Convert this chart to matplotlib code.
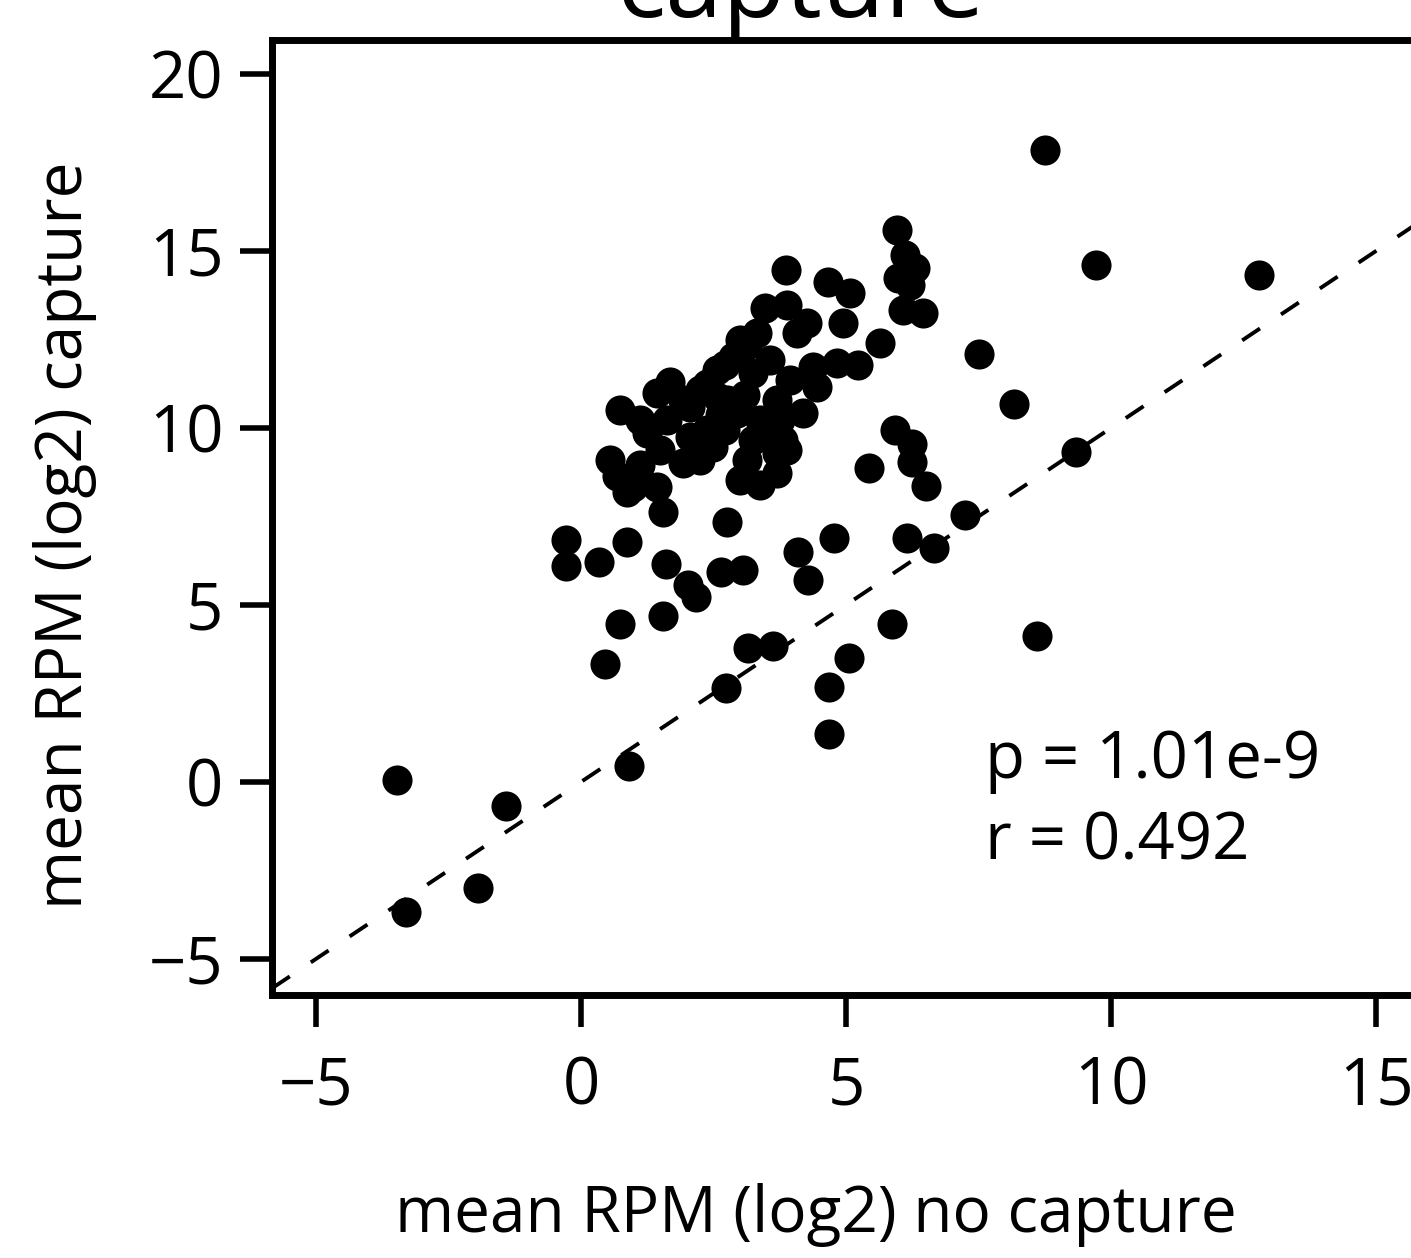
import matplotlib
matplotlib.use('Agg')
import matplotlib.pyplot as plt

plt.rcParams['font.family'] = ['Open Sans', 'DejaVu Sans']

# mean RPM (log2) without capture (x) and with capture (y)
x_no_capture = [
    # scattered points
    -3.47, -3.30, -1.94, -1.42, 0.91, 0.45, 0.74, 1.55, -0.28, -0.28,
    0.34, 0.87, 1.60, 2.02, 2.17, 2.64, 3.06, 2.75, 3.15, 3.62,
    2.74, 4.09, 4.28, 4.77, 4.68, 5.06, 4.68, 5.87, 8.60, 5.43,
    5.92, 6.25, 6.25, 6.51, 6.15, 6.66, 7.25, 9.34, 8.17, 7.51,
    8.75, 9.72, 12.79,
    5.96, 6.11, 6.30, 5.98, 6.21, 6.08, 6.45,
    # dense cluster
    0.74, 1.43, 1.68, 1.25, 1.62, 2.06, 2.25, 2.57, 2.87, 2.38,
    1.92, 0.55, 0.68, 0.98, 0.87, 1.43, 1.55, 3.00, 3.38, 3.70,
    2.49, 3.00, 3.32, 3.13, 2.72, 3.25, 3.70, 2.38, 2.57, 2.94,
    3.81, 3.70, 3.25, 3.13, 3.47, 3.89, 3.87, 4.66, 5.08, 4.26,
    4.94, 4.08, 5.64, 5.23, 4.83, 4.38, 4.45, 4.19, 3.89, 2.06,
    1.92, 2.75, 3.38, 3.57, 3.94, 2.72, 3.09, 1.49, 1.11,
    2.62, 3.47, 2.25, 3.75, 1.11,
]
y_capture = [
    0.06, -3.67, -2.99, -0.68, 0.45, 3.33, 4.46, 4.69, 6.84, 6.10,
    6.21, 6.78, 6.16, 5.56, 5.23, 5.93, 5.99, 7.34, 3.79, 3.84,
    2.66, 6.50, 5.71, 6.89, 2.68, 3.50, 1.36, 4.46, 4.12, 8.87,
    9.94, 9.55, 9.04, 8.36, 6.89, 6.61, 7.54, 9.32, 10.68, 12.09,
    17.85, 14.60, 14.32,
    15.59, 14.89, 14.52, 14.24, 14.04, 13.33, 13.25,
    10.51, 10.99, 11.30, 9.86, 10.23, 10.59, 11.07, 11.64, 12.01, 9.94,
    9.01, 9.10, 8.64, 8.33, 8.19, 8.33, 7.63, 8.53, 8.39, 8.73,
    9.46, 12.49, 12.68, 12.34, 11.78, 11.55, 10.79, 11.24, 10.88, 10.42,
    9.66, 9.29, 9.66, 9.10, 13.39, 13.47, 14.46, 14.12, 13.81, 12.97,
    12.97, 12.68, 12.40, 11.78, 11.84, 11.72, 11.16, 10.42, 9.38, 9.75,
    10.79, 10.79, 10.23, 11.92, 11.36, 9.94, 10.93, 9.38, 8.95,
    10.37, 9.80, 9.10, 10.23, 10.23,
]

x_ticks = [-5, 0, 5, 10, 15]
y_ticks = [-5, 0, 5, 10, 15, 20]
stats_lines = ['p = 1.01e-9', 'r = 0.492']

fig = plt.figure(figsize=(14.11, 12.58), dpi=100)
ax = fig.add_axes([0.19277, 0.20906, 0.8388, 0.75914])
ax.set_xlim(-5.83, 16.5)
ax.set_ylim(-6.02, 20.96)

ax.axline((0, 0), slope=1, color='black', lw=2.8,
          linestyle=(0, (5.5, 6.5)), zorder=2)
ax.scatter(x_no_capture, y_capture, s=470, c='black', linewidths=0, zorder=3)

for sp in ax.spines.values():
    sp.set_linewidth(5)

ax.set_xticks(x_ticks)
ax.set_yticks(y_ticks)
ax.tick_params(axis='both', length=23, width=4, labelsize=47,
               direction='out')
ax.tick_params(axis='x', pad=20)
ax.tick_params(axis='y', pad=12)

ax.text(7.62, 0.11, stats_lines[0], fontsize=47, va='baseline', ha='left')
ax.text(7.62, -2.2, stats_lines[1], fontsize=47, va='baseline', ha='left')

fig.text(816 / 1411, 1 - 1215 / 1258, 'mean RPM (log2) no capture',
         ha='center', va='center', fontsize=46)
fig.text(65 / 1411, 1 - 535 / 1258, 'mean RPM (log2) capture',
         rotation=90, ha='center', va='center', fontsize=46)
fig.text(801 / 1411, 1 - 17 / 1258, 'capture', ha='center',
         va='baseline', fontsize=74)

fig.savefig('out.png', dpi=100)
